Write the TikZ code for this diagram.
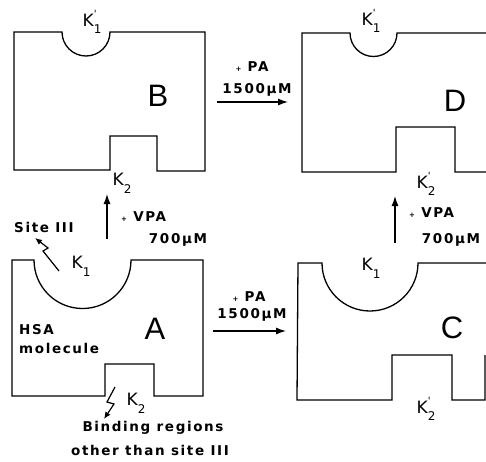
\documentclass[tikz,border=0pt]{standalone}
\usepackage{fontspec}
\usetikzlibrary{arrows.meta}
\newfontfamily\labf[LetterSpace=12]{DejaVu Sans}
\newfontfamily\bigf{Liberation Sans}
\newcommand\Klab[2]{K\rlap{\raisebox{.5em}{\fontsize{10}{10}\selectfont #1}}\raisebox{-.45em}{\fontsize{12}{12}\selectfont #2}}
\tikzset{
  lbl/.style={font=\labf\bfseries\fontsize{13.5}{15}\selectfont, inner sep=0pt},
  klbl/.style={font=\labf\fontsize{17}{17}\selectfont, inner sep=0pt},
  biglbl/.style={font=\bigf\fontsize{31}{31}\selectfont, inner sep=0pt},
  box/.style={line width=1.3pt, line join=miter},
  rxn/.style={-{Latex[length=10pt,width=7pt]}, line width=1.2pt},
  bolt/.style={-{Latex[length=7pt,width=6pt]}, line width=1.2pt}
}
\begin{document}
\begin{tikzpicture}[x=1pt,y=1pt]
\useasboundingbox (0,0) rectangle (486,-461);
\clip (0,0) rectangle (486,-461);
% box B
\draw[box] (14,-32) -- (62,-32) arc[start angle=180,end angle=360,radius=24] -- (205,-32) -- (205,-171) -- (157,-171) -- (157,-136) -- (110,-136) -- (110,-170) -- (14,-170) -- cycle;
% box D
\draw[box] (490,-33) -- (397,-33) arc[start angle=0,end angle=-180,radius=23.5] -- (302,-33) -- (302,-172) -- (396,-172) -- (396,-127) -- (455,-127) -- (455,-172) -- (490,-172);
% box A
\draw[box] (12,-260) -- (34,-260) arc[start angle=180,end angle=360,radius=48.5] -- (203,-260) -- (203,-396) -- (154,-396) -- (154,-364) -- (105,-364) -- (105,-396) -- (12,-396) -- cycle;
% box C
\draw[box] (490,-263) -- (418,-263) arc[start angle=0,end angle=-180,radius=48] -- (298,-263) -- (297,-400) -- (392,-400) -- (392,-355) -- (452,-355) -- (452,-400) -- (485,-400) -- (485,-355);

% big letters
\node[biglbl] (lB) at (158,-96) {B};
\node[biglbl] (lD) at (455,-101) {D};
\node[biglbl] (lA) at (155,-329) {A};
\node[biglbl] (lC) at (452,-328) {C};

% K labels
\node[klbl] (kB1) at (92,-22) {\Klab{'}{1}};
\node[klbl] (kB2) at (122,-183) {\Klab{}{2}};
\node[klbl] (kD1) at (371,-21) {\Klab{'}{1}};
\node[klbl] (kD2) at (426,-184) {\Klab{'}{2}};
\node[klbl] (kA1) at (81,-266) {\Klab{}{1}};
\node[klbl] (kA2) at (136,-403) {\Klab{}{2}};
\node[klbl] (kC1) at (371,-268) {\Klab{}{1}};
\node[klbl] (kC2) at (426,-409) {\Klab{'}{2}};

% reaction arrows
\coordinate (bdS) at (217,-102); \coordinate (bdE) at (288,-102);
\coordinate (acS) at (213,-331); \coordinate (acE) at (286,-331);
\coordinate (abS) at (107,-239); \coordinate (abE) at (107,-194);
\coordinate (cdS) at (395,-243); \coordinate (cdE) at (395,-196);
\draw[rxn] (bdS) -- (bdE);
\draw[rxn] (acS) -- (acE);
\draw[rxn] (abS) -- (abE);
\draw[rxn] (cdS) -- (cdE);

% arrow labels
\node[lbl] (pa1) at (252,-67) {{\scriptsize+} PA};
\node[lbl] (c1) at (257,-90) {1500µM};
\node[lbl] (pa2) at (249,-297) {{\scriptsize+} PA};
\node[lbl] (c2) at (252,-315) {1500µM};
\node[lbl, anchor=west] (vpa1) at (121,-217) {{\scriptsize+} VPA};
\node[lbl] (c3) at (178,-240) {700µM};
\node[lbl, anchor=west] (vpa2) at (409,-213) {{\scriptsize+} VPA};
\node[lbl] (c4) at (451,-240) {700µM};

% other labels
\node[lbl, anchor=west] (site) at (14,-227) {Site III};
\node[lbl, anchor=west] (hsa) at (19,-330) {HSA};
\node[lbl, anchor=west] (mol) at (19,-348) {molecule};
\node[lbl] (bind1) at (153,-428) {Binding regions};
\node[lbl] (bind2) at (150,-450) {other than site III};

% lightning arrows
\coordinate (l1a) at (59,-271); \coordinate (l1b) at (43,-251);
\coordinate (l1c) at (48,-248); \coordinate (l1d) at (35,-238);
\draw[bolt] (l1a) -- (l1b) -- (l1c) -- (l1d);
\coordinate (l2a) at (115,-387); \coordinate (l2b) at (107,-402);
\coordinate (l2c) at (114,-404); \coordinate (l2d) at (104,-419);
\draw[bolt] (l2a) -- (l2b) -- (l2c) -- (l2d);
\end{tikzpicture}
\end{document}
